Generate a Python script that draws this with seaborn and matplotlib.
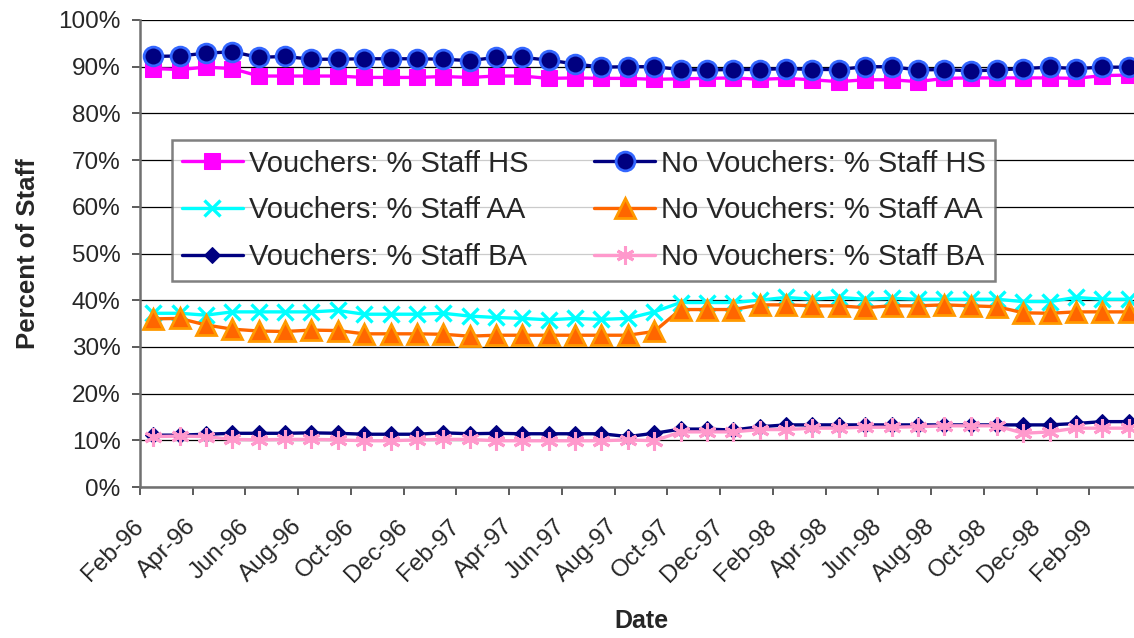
##################
#### IMPORTS  ####
##################

import numpy as np
import pandas as pd
import seaborn as sns
import matplotlib.pyplot as plt
from matplotlib.ticker import FuncFormatter

##############
#### DATA ####
##############

# monthly, Feb-96 .. Mar-99
months = list(range(38))

tick_labels = ['Feb-96', 'Apr-96', 'Jun-96', 'Aug-96', 'Oct-96', 'Dec-96',
               'Feb-97', 'Apr-97', 'Jun-97', 'Aug-97', 'Oct-97', 'Dec-97',
               'Feb-98', 'Apr-98', 'Jun-98', 'Aug-98', 'Oct-98', 'Dec-98',
               'Feb-99']

v_hs = [89.6, 89.4, 89.9, 89.6, 88.0, 88.0, 88.0, 88.0, 87.7, 87.7, 87.7, 87.9, 87.7,
        88.0, 88.0, 87.5, 87.6, 87.5, 87.5, 87.3, 87.4, 87.5, 87.6, 87.3, 87.5,
        87.2, 86.8, 87.2, 87.2, 86.8, 87.5, 87.6, 87.6, 87.6, 87.6, 87.5, 88.1, 88.2]
nv_hs = [92.2, 92.3, 92.9, 93.2, 92.0, 92.2, 91.6, 91.6, 91.7, 91.7, 91.7, 91.6, 91.3,
         92.0, 92.0, 91.4, 90.6, 89.9, 90.0, 90.0, 89.4, 89.3, 89.4, 89.4, 89.6,
         89.4, 89.4, 90.0, 90.0, 89.3, 89.4, 89.1, 89.3, 89.6, 89.9, 89.6, 89.9, 89.9]
v_aa = [37.2, 37.2, 36.8, 37.5, 37.5, 37.5, 37.5, 37.8, 37.0, 37.0, 37.0, 37.2, 36.6,
        36.3, 36.1, 35.8, 36.1, 35.9, 36.1, 37.5, 39.5, 39.5, 39.5, 40.0, 40.6,
        40.2, 40.6, 40.2, 40.4, 40.2, 40.2, 40.2, 40.2, 39.7, 39.7, 40.6, 40.2, 40.2]
nv_aa = [36.0, 36.1, 34.7, 33.8, 33.4, 33.3, 33.6, 33.5, 32.8, 32.8, 32.8, 32.7, 32.3,
         32.5, 32.5, 32.5, 32.5, 32.5, 32.5, 33.3, 38.0, 38.0, 38.0, 39.0, 39.0,
         38.8, 38.8, 38.4, 38.8, 38.8, 39.0, 38.8, 38.6, 37.3, 37.2, 37.5, 37.5, 37.5]
v_ba = [11.1, 11.1, 11.3, 11.5, 11.5, 11.5, 11.6, 11.5, 11.3, 11.3, 11.3, 11.6, 11.4,
        11.5, 11.4, 11.4, 11.4, 11.4, 10.8, 11.5, 12.4, 12.4, 12.2, 12.9, 13.3,
        13.3, 13.3, 13.3, 13.3, 13.3, 13.3, 13.3, 13.3, 13.3, 13.3, 13.6, 14.0, 14.0]
nv_ba = [10.8, 10.9, 10.8, 10.2, 10.1, 10.2, 10.2, 10.1, 9.9, 9.9, 10.1, 10.2, 10.2,
         9.9, 9.9, 9.9, 9.9, 9.9, 10.1, 9.9, 11.8, 11.8, 11.8, 12.3, 12.3,
         12.6, 12.6, 12.8, 12.8, 12.9, 13.1, 13.1, 13.1, 11.5, 11.8, 12.6, 12.6, 12.6]

df = pd.DataFrame({'Month': months,
                   'Vouchers: % Staff HS': v_hs,
                   'Vouchers: % Staff AA': v_aa,
                   'Vouchers: % Staff BA': v_ba,
                   'No Vouchers: % Staff HS': nv_hs,
                   'No Vouchers: % Staff AA': nv_aa,
                   'No Vouchers: % Staff BA': nv_ba})

styles = {
    'Vouchers: % Staff HS': dict(color='#FF00FF', marker='s', markersize=11,
                                 markerfacecolor='#FF00FF', markeredgecolor='#FF00FF'),
    'Vouchers: % Staff AA': dict(color='#00FFFF', marker='x', markersize=12,
                                 markeredgewidth=2.4, markeredgecolor='#00FFFF'),
    'Vouchers: % Staff BA': dict(color='#000080', marker='D', markersize=8.5,
                                 markerfacecolor='#000080', markeredgecolor='#000080'),
    'No Vouchers: % Staff HS': dict(color='#000080', marker='o', markersize=13.5,
                                    markerfacecolor='#000080', markeredgecolor='#3366FF',
                                    markeredgewidth=2.0),
    'No Vouchers: % Staff AA': dict(color='#FF6600', marker='^', markersize=14,
                                    markerfacecolor='#FF6600', markeredgecolor='#FF9900',
                                    markeredgewidth=2.0),
    'No Vouchers: % Staff BA': dict(color='#FF99CC', marker=(6, 2, 0), markersize=13,
                                    markeredgewidth=2.2, markeredgecolor='#FF99CC'),
}

##############
#### PLOT ####
##############

sns.set_style('white')
plt.rcParams['font.family'] = ['Liberation Sans', 'DejaVu Sans']

fig = plt.figure(figsize=(11.34, 6.38), dpi=100)
ax = fig.add_axes([140 / 1134, 151 / 638, 1002 / 1134, 467 / 638])

for name, st in styles.items():
    sns.lineplot(data=df, x='Month', y=name, ax=ax, label=name, linewidth=2.4, **st)

ax.set_xlim(-0.5, 37.5)
ax.set_ylim(0, 100)
ax.set_yticks(np.arange(0, 101, 10))
ax.yaxis.set_major_formatter(FuncFormatter(lambda v, p: f'{v:.0f}%'))
ax.set_xticks(np.arange(-0.5, 36, 2))
ax.set_xticklabels(tick_labels, rotation=45, ha='right', va='center',
                   rotation_mode='anchor')

ax.grid(axis='y', color='black', linewidth=0.9)
ax.set_axisbelow(True)
for s in ['top', 'right']:
    ax.spines[s].set_visible(False)
for s in ['left', 'bottom']:
    ax.spines[s].set_color('#707070')
    ax.spines[s].set_linewidth(1.8)

ax.tick_params(axis='both', direction='out', length=6, width=1.2, color='#404040',
               labelsize=17.5, left=True, bottom=True)
ax.tick_params(axis='y', pad=8)
ax.tick_params(axis='x', pad=20)

ax.set_ylabel('Percent of Staff', fontsize=18.5, fontweight='bold')
ax.yaxis.set_label_coords(-0.100, 0.5)
ax.set_xlabel('Date', fontsize=18, fontweight='bold')
ax.xaxis.set_label_coords(0.5, -0.262)

leg = ax.legend(loc='upper left', bbox_to_anchor=(0.032, 0.743), borderaxespad=0,
                ncol=2, fancybox=False, frameon=True, handlelength=2.1,
                handletextpad=0.2, columnspacing=2.25, labelspacing=0.64,
                borderpad=0.33, prop={'size': 21})
leg.get_frame().set_edgecolor('#606060')
leg.get_frame().set_linewidth(1.8)

plt.savefig('out.png', dpi=100)
plt.close()
